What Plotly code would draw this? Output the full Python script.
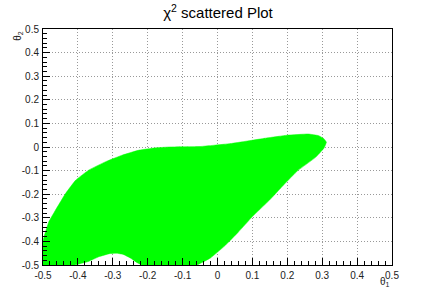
import plotly.graph_objects as go

# Boundary of the scattered chi^2 region (theta1, theta2)
theta1 = [-0.5, -0.5, -0.497, -0.483, -0.464, -0.435, -0.406, -0.368, -0.32, -0.272, -0.224,
          -0.18, -0.138, -0.05, 0.04, 0.14, 0.2, 0.26, 0.29, 0.305, 0.312, 0.305, 0.28,
          0.23, 0.19, 0.149, 0.10, 0.06, 0.02, -0.02, -0.06,
          -0.216, -0.23, -0.25, -0.27, -0.29, -0.31, -0.34, -0.37, -0.41, -0.5]
theta2 = [-0.5, -0.4, -0.38, -0.316, -0.267, -0.196, -0.14, -0.097, -0.062, -0.034, -0.013,
          -0.004, 0.0, 0.002, 0.015, 0.038, 0.05, 0.055, 0.048, 0.035, 0.02, -0.005, -0.045,
          -0.10, -0.16, -0.225, -0.295, -0.36, -0.42, -0.47, -0.5,
          -0.5, -0.49, -0.47, -0.455, -0.45, -0.452, -0.465, -0.485, -0.5, -0.5]

tick_vals = [-0.5, -0.4, -0.3, -0.2, -0.1, 0, 0.1, 0.2, 0.3, 0.4, 0.5]
tick_text = ["-0.5", "-0.4", "-0.3", "-0.2", "-0.1", "0", "0.1", "0.2", "0.3", "0.4", "0.5"]

FONT = "Liberation Sans, Arial, sans-serif"

fig = go.Figure()
fig.add_trace(go.Scatter(
    x=theta1, y=theta2, mode="lines", fill="toself",
    fillcolor="#00ff00", line=dict(width=0.5, color="#00ff00", shape="spline", smoothing=0.3),
    hoverinfo="skip", showlegend=False,
))

axis_common = dict(
    range=[-0.5, 0.5], tickvals=tick_vals, ticktext=tick_text,
    automargin=False,
    showline=True, linecolor="black", linewidth=1, mirror=True,
    ticks="inside", ticklen=7, tickcolor="black", tickwidth=1,
    showgrid=True, gridcolor="#999999", griddash="1px,2px", gridwidth=1,
    zeroline=False,
    tickfont=dict(family=FONT, size=10, color="#222"),
    minor=dict(ticks="inside", ticklen=4, dtick=0.02, tick0=0, tickcolor="black",
               showgrid=False),
    fixedrange=True,
)

fig.update_layout(
    width=436, height=295,
    margin=dict(l=43, r=44, t=29, b=30, autoexpand=False),
    paper_bgcolor="white", plot_bgcolor="white",
    xaxis=dict(axis_common, ticklabelstandoff=1),
    yaxis=dict(axis_common, ticklabelstandoff=1),
    title=dict(text="χ<sup>2</sup> scattered Plot", x=0.5, xanchor="center",
               y=1 - 13 / 295, yanchor="middle", yref="container",
               font=dict(family=FONT, size=15, color="black")),
    annotations=[
        dict(text="θ<sub>1</sub>", xref="paper", yref="paper", x=1.0, y=-0.072,
             xanchor="right", yanchor="middle", showarrow=False,
             font=dict(family=FONT, size=10, color="#222")),
        dict(text="θ<sub>2</sub>", xref="paper", yref="paper", x=-0.072, y=1.0,
             xanchor="center", yanchor="top", showarrow=False, textangle=-90,
             font=dict(family=FONT, size=10, color="#222")),
    ],
)

fig.write_html("out.html", config={"displayModeBar": False},
               post_script="document.body.style.margin='0';")
